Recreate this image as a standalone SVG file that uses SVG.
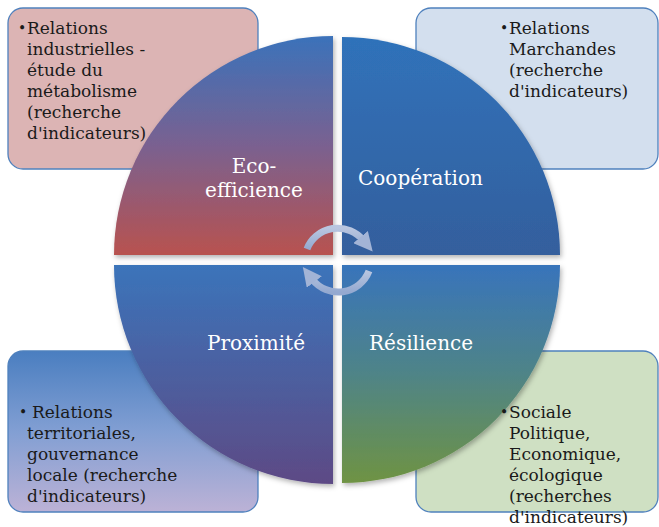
<svg xmlns="http://www.w3.org/2000/svg" width="659" height="527" viewBox="0 0 659 527">
<style>
.box{stroke:#4f81bd;stroke-width:1.3}
.bt{font-family:"DejaVu Serif","Liberation Serif",serif;font-size:17px;fill:#1a1a1a}
.bu{font-family:"DejaVu Serif","Liberation Serif",serif;font-size:14px;fill:#1a1a1a}
.qt{font-family:"DejaVu Serif","Liberation Serif",serif;font-size:20px;fill:#ffffff}
.arc{fill:none;stroke:url(#ga);stroke-width:7}
</style>
<defs>
<linearGradient id="gtl" x1="0" y1="0" x2="0" y2="1"><stop offset="0" stop-color="#3b72ba"/><stop offset="0.5" stop-color="#7a6190"/><stop offset="1" stop-color="#b8524f"/></linearGradient>
<linearGradient id="gtr" x1="0" y1="0" x2="0" y2="1"><stop offset="0" stop-color="#2f72ba"/><stop offset="1" stop-color="#345f9d"/></linearGradient>
<linearGradient id="gbr" x1="0" y1="0" x2="0" y2="1"><stop offset="0" stop-color="#3874bb"/><stop offset="0.5" stop-color="#4f8487"/><stop offset="1" stop-color="#6f9343"/></linearGradient>
<linearGradient id="gbl" x1="0" y1="0" x2="0" y2="1"><stop offset="0" stop-color="#3b74ba"/><stop offset="1" stop-color="#5d4a85"/></linearGradient>
<linearGradient id="gblbox" x1="0" y1="0" x2="0" y2="1"><stop offset="0" stop-color="#4a7ec0"/><stop offset="0.5" stop-color="#829fd3"/><stop offset="1" stop-color="#bcb2d6"/></linearGradient>
<linearGradient id="ga" x1="0" y1="0" x2="0" y2="1"><stop offset="0" stop-color="#b9c6e0"/><stop offset="1" stop-color="#94a9d0"/></linearGradient>
<marker id="ah" viewBox="0 0 10 10" refX="2" refY="5" markerWidth="2.7" markerHeight="2.7" orient="auto" markerUnits="strokeWidth"><path d="M0 0 L10 5 L0 10 Z" fill="#a3b4d6"/></marker>
<filter id="sh" x="-10%" y="-10%" width="120%" height="120%"><feDropShadow dx="1.5" dy="2.5" stdDeviation="2.5" flood-color="#000" flood-opacity="0.3"/></filter>
</defs>

<g id="box-tl"><rect class="box" x="8" y="8" width="250" height="161" rx="15" fill="#dcb4b4"/>
<text class="bu" x="18" y="33">•</text>
<text class="bt"><tspan x="27" y="34">Relations</tspan><tspan x="27" y="55">industrielles -</tspan><tspan x="27" y="76">étude du</tspan><tspan x="27" y="97">métabolisme</tspan><tspan x="27" y="118">(recherche</tspan><tspan x="27" y="139">d'indicateurs)</tspan></text></g>

<g id="box-tr"><rect class="box" x="416" y="8" width="242" height="161" rx="15" fill="#d3dfee"/>
<text class="bu" x="500" y="33">•</text>
<text class="bt"><tspan x="509" y="34">Relations</tspan><tspan x="509" y="55">Marchandes</tspan><tspan x="509" y="76">(recherche</tspan><tspan x="509" y="97">d'indicateurs)</tspan></text></g>

<g id="box-bl"><rect class="box" x="8" y="351" width="250" height="161" rx="15" fill="url(#gblbox)"/>
<text class="bu" x="19" y="417">•</text>
<text class="bt"><tspan x="32" y="418">Relations</tspan><tspan x="27" y="439">territoriales,</tspan><tspan x="27" y="460">gouvernance</tspan><tspan x="27" y="481">locale (recherche</tspan><tspan x="27" y="502">d'indicateurs)</tspan></text></g>

<g id="box-br"><rect class="box" x="416" y="351" width="242" height="161" rx="15" fill="#cfe0c3"/></g>

<g id="q-tl" filter="url(#sh)"><path d="M333 255 L114 255 A219 219 0 0 1 333 36 Z" fill="url(#gtl)"/></g>
<g id="q-tr" filter="url(#sh)"><path d="M342 255 L342 37 A218 218 0 0 1 560 255 Z" fill="url(#gtr)"/></g>
<g id="q-br" filter="url(#sh)"><path d="M342 265 L560 265 A218 218 0 0 1 342 483 Z" fill="url(#gbr)"/></g>
<g id="q-bl" filter="url(#sh)"><path d="M333 265 L333 484 A219 219 0 0 1 114 265 Z" fill="url(#gbl)"/></g>

<g id="box-br-text"><text class="bu" x="500" y="417">•</text>
<text class="bt"><tspan x="509" y="418">Sociale</tspan><tspan x="509" y="439">Politique,</tspan><tspan x="509" y="460">Economique,</tspan><tspan x="509" y="481">écologique</tspan><tspan x="509" y="502">(recherches</tspan><tspan x="509" y="523">d'indicateurs)</tspan></text></g>

<g id="labels">
<text class="qt" x="254" y="173" text-anchor="middle">Eco-</text>
<text class="qt" x="254" y="197" text-anchor="middle">efficience</text>
<text class="qt" x="358" y="185">Coopération</text>
<text class="qt" x="207" y="350">Proximité</text>
<text class="qt" x="369" y="350">Résilience</text>
</g>

<g id="connectors">
<path class="arc" d="M307 249 A33 33 0 0 1 363 240" marker-end="url(#ah)"/>
<path class="arc" d="M369 271 A33 33 0 0 1 312 279" marker-end="url(#ah)"/>
</g>
</svg>
